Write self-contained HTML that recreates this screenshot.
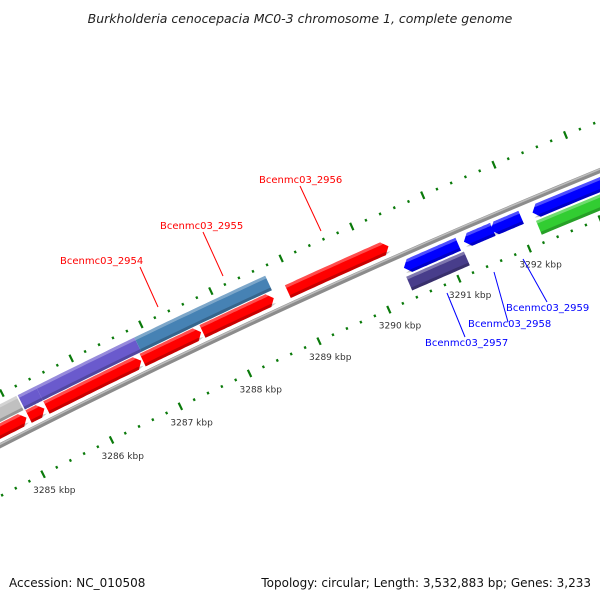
<!DOCTYPE html>
<html><head><meta charset="utf-8"><style>
body{margin:0;background:#fff;}
svg{display:block;font-family:"DejaVu Sans","Liberation Sans",sans-serif;}
</style></head><body>
<svg id="map" width="600" height="600" viewBox="0 0 600 600">
<rect width="600" height="600" fill="#fff"/>
<text x="300" y="23" text-anchor="middle" font-size="12.5" font-style="italic" fill="#222">Burkholderia cenocepacia MC0-3 chromosome 1, complete genome</text>
<g id="scales"></g>
<g id="backbone"></g>
<g id="features"></g>
<g id="callouts"></g>
<text x="9" y="587" font-size="12" fill="#111">Accession: NC_010508</text>
<text x="591" y="587" font-size="12" fill="#111" text-anchor="end">Topology: circular; Length: 3,532,883 bp; Genes: 3,233</text>
</svg>
<script>
// data arrays
const featNames = ['gray-block','purple-block-1','purple-block-2','steelblue-block','red-1','red-2','Bcenmc03_2954','Bcenmc03_2955','red-5','Bcenmc03_2956','Bcenmc03_2957','Bcenmc03_2958a','Bcenmc03_2958b','Bcenmc03_2959','darkslate-block','green-block'];
const featStart = [3283.5,3285.17,3285.43,3286.85,3283.5,3285.17,3285.43,3286.82,3287.68,3288.90,3290.40,3291.25,3291.63,3292.22,3290.38,3292.22];
const featEnd   = [3285.15,3285.43,3286.85,3288.72,3285.14,3285.40,3286.80,3287.66,3288.70,3290.33,3291.17,3291.66,3292.06,3295.5,3291.20,3295.5];
const featTrack = [2,2,2,2,1,1,1,1,1,1,-1,-1,-1,-1,-2,-2];
const featArrow = [0,0,0,0,1,1,1,1,1,1,-1,-1,-1,-1,0,0];
const featColor = ['#c0c0c0','#6a5acd','#6a5acd','#4682b4','#ff0000','#ff0000','#ff0000','#ff0000','#ff0000','#ff0000','#0000ff','#0000ff','#0000ff','#0000ff','#483d8b','#32cd32'];
const tickLabelKbp = [3285,3286,3287,3288,3289,3290,3291,3292];
const tickStart = 3283, tickEnd = 3296, tickStep = 0.2;

const NS='http://www.w3.org/2000/svg';
function P(k,r){const phi=(26.6-0.57*(k-3285.5))*Math.PI/180;const R=7745+r;return [3525-R*Math.sin(phi),7342-R*Math.cos(phi)];}
const trackR={'1':[6,20],'2':[21,37],'-1':[-20,-6],'-2':[-37,-22]};
function el(tag,attrs,parent){const e=document.createElementNS(NS,tag);for(const a in attrs)e.setAttribute(a,attrs[a]);parent.appendChild(e);return e;}
function edge(k1,k2,r){const pts=[];const n=24;for(let i=0;i<=n;i++){pts.push(P(k1+(k2-k1)*i/n,r));}return pts;}
function shape(k1,k2,r1,r2,arrow){const h=6/76.5;const rm=(r1+r2)/2;let pts=[];
 let a=k1,b=k2;if(arrow===1)b=k2-h;if(arrow===-1)a=k1+h;
 pts=pts.concat(edge(a,b,r2));
 if(arrow===1)pts.push(P(k2,rm));
 pts=pts.concat(edge(b,a,r1));
 if(arrow===-1)pts.push(P(k1,rm));
 return pts.map(p=>p[0].toFixed(1)+','+p[1].toFixed(1)).join(' ');}

// scales
const sg=document.getElementById('scales');
const nT=Math.round((tickEnd-tickStart)/tickStep);
[46,-45].forEach(rr=>{
 for(let i=0;i<=nT;i++){const k=tickStart+i*tickStep;const major=Math.abs(k-Math.round(k))<1e-6;const len=major?4:1.3;
  const a=P(k,rr-len),b=P(k,rr+len);
  const t=el('line',{x1:a[0],y1:a[1],x2:b[0],y2:b[1],stroke:'#0a7a0a','stroke-width':2.2},sg);
  
  }
});
tickLabelKbp.forEach(k=>{const p=P(k,-45);
 const t=el('text',{x:(p[0]-10).toFixed(1),y:(p[1]+19).toFixed(1),'font-size':'9',fill:'#333'},sg);
 t.textContent=k+' kbp';
 
 });

// backbone
const bg=document.getElementById('backbone');
const bp=edge(3282,3297,0).map(p=>p[0].toFixed(1)+','+p[1].toFixed(1)).join(' ');
const bl=el('polyline',{points:bp,fill:'none',stroke:'#8c8c8c','stroke-width':5},bg);


const bh=edge(3282,3297,1.3).map(p=>p[0].toFixed(1)+','+p[1].toFixed(1)).join(' ');
el('polyline',{points:bh,fill:'none',stroke:'#bdbdbd','stroke-width':1.5},bg);

// features
const fg=document.getElementById('features');
for(let i=0;i<featStart.length;i++){const tr=trackR[String(featTrack[i])];const r1=tr[0],r2=tr[1];
 const g=el('g',{},fg);
 
 
 el('polygon',{points:shape(featStart[i],featEnd[i],r1,r2,featArrow[i]),fill:featColor[i]},g);
 el('polygon',{points:shape(featStart[i],featEnd[i],r2-3,r2,featArrow[i]),fill:'#fff','fill-opacity':0.3},g);
 el('polygon',{points:shape(featStart[i],featEnd[i],r1,r1+3,featArrow[i]),fill:'#000','fill-opacity':0.22},g);
}

// callouts
const calloutText=['Bcenmc03_2954','Bcenmc03_2955','Bcenmc03_2956','Bcenmc03_2957','Bcenmc03_2958','Bcenmc03_2959'];
const cg=document.getElementById('callouts');
const cl=[[60,264,140,267,158,307,'#ff0000'],[160,229,203,232,223,276,'#ff0000'],[259,183,300,186,321,231,'#ff0000'],
 [425,346,465,337,447,293,'#0000ff'],[468,327,508,322,494,272,'#0000ff'],[506,311,547,302,523,259,'#0000ff']];
cl.forEach((c,i)=>{
 const ln=el('line',{x1:c[2],y1:c[3],x2:c[4],y2:c[5],stroke:c[6],'stroke-width':1},cg);
 
 
 const t=el('text',{x:c[0],y:c[1],'font-size':'10',fill:c[6]},cg);
 t.textContent=calloutText[i];
 
 
});
</script>
</body></html>
